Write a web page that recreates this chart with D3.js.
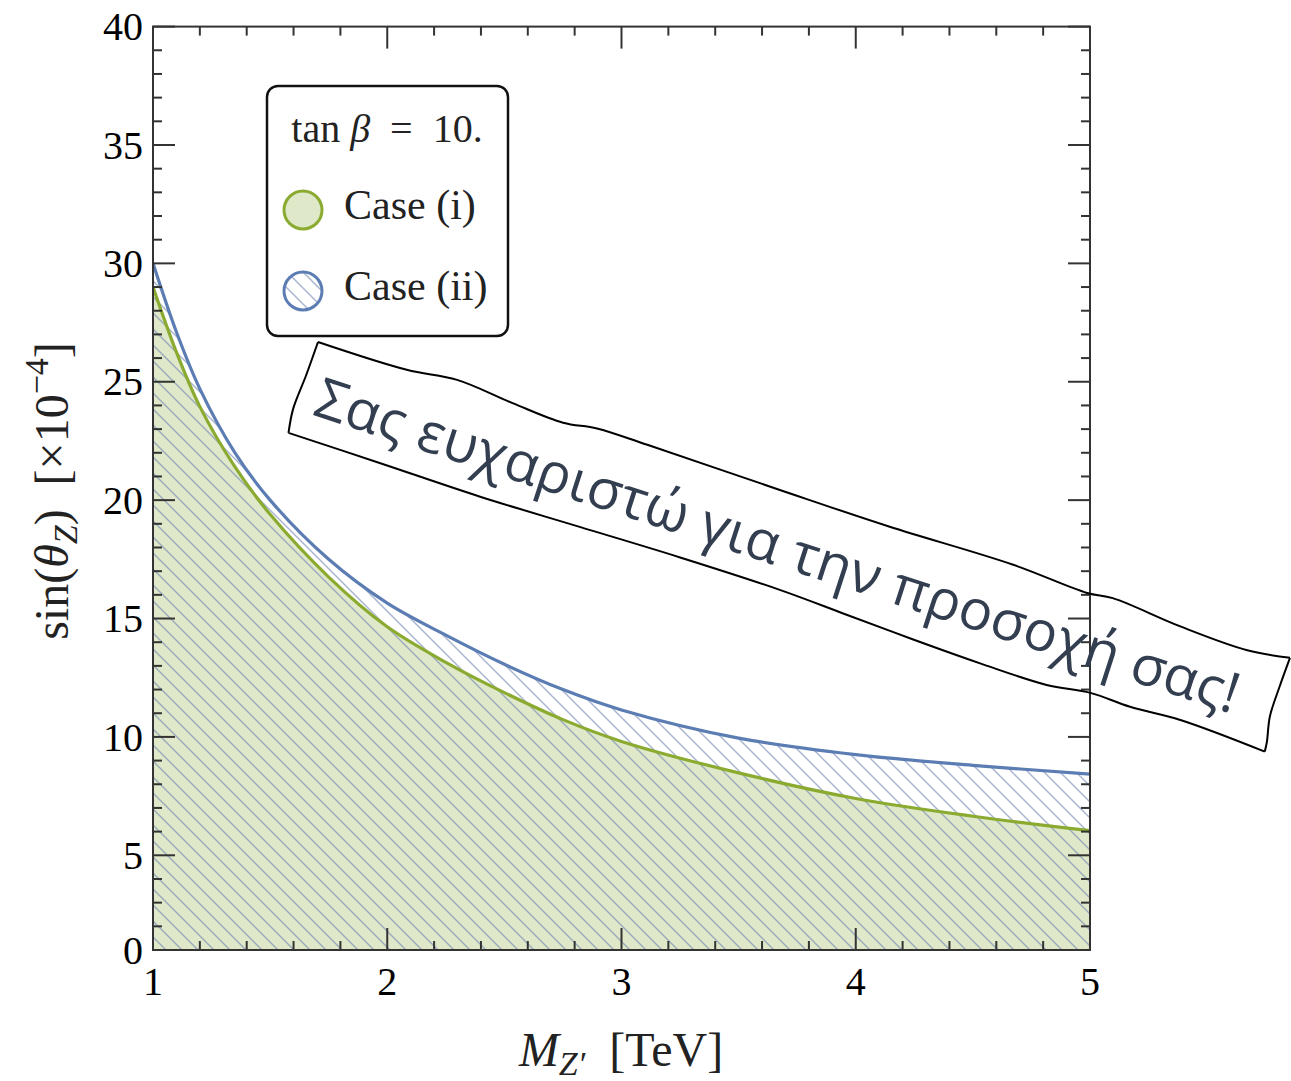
<!DOCTYPE html>
<html>
<head>
<meta charset="utf-8">
<script src="https://cdn.jsdelivr.net/npm/d3@7"></script>
<style>
  body { margin: 0; background: #fff; }
  text { font-family: "Liberation Serif", "DejaVu Serif", serif; }
</style>
</head>
<body>
<svg width="1291" height="1081"></svg>
<script>
// Z' mass in TeV and the two limits on sin(theta_Z) in units of 1e-4
var massTeV = [1, 1.1, 1.2, 1.35, 1.5, 1.75, 2, 2.25, 2.5, 2.75, 3, 3.5, 4, 4.5, 5];
var caseOne = [29.0, 26.25, 23.95, 21.4, 19.4, 16.75, 14.65, 13.15, 11.87, 10.73, 9.81, 8.48, 7.40, 6.65, 6.04];
var caseTwo = [30.0, 27.1, 24.7, 22.0, 20.0, 17.5, 15.65, 14.3, 13.07, 12.0, 11.14, 9.95, 9.25, 8.8, 8.43];

var xTickValues = [1, 2, 3, 4, 5];
var xTickLabels = ["1", "2", "3", "4", "5"];
var yTickValues = [1, 5, 10, 15, 20, 25, 30, 35, 40];
var yTickLabels = ["0", "5", "10", "15", "20", "25", "30", "35", "40"];

var legendLabels = ["Case (i)", "Case (ii)"];
var bannerText = "Σας ευχαριστώ για την προσοχή σας!";

var svg = d3.select("svg"),
    plotLeft = 153, plotRight = 1090, plotTop = 26.6, plotBottom = 950;

var x = d3.scaleLinear().domain([1, 5]).range([plotLeft, plotRight]);
var y = d3.scaleLinear().domain([1, 40]).range([plotBottom, plotTop]);

var green = "#8aab30", greenFill = "#dfe8c9", blue = "#5b7db3";

var defs = svg.append("defs");

// diagonal hatch for case (ii)
defs.append("pattern")
    .attr("id", "hatch")
    .attr("patternUnits", "userSpaceOnUse")
    .attr("width", 16)
    .attr("height", 16)
  .append("path")
    .attr("d", "M-4,12L4,20M0,0L16,16M12,-4L20,4")
    .attr("stroke", "#6f84b0")
    .attr("stroke-opacity", 0.6)
    .attr("stroke-width", 1.5);

defs.append("clipPath").attr("id", "plotClip")
  .append("rect")
    .attr("x", plotLeft).attr("y", plotTop)
    .attr("width", plotRight - plotLeft).attr("height", plotBottom - plotTop);

var rowsOne = massTeV.map(function(m, i) { return {m: m, v: caseOne[i]}; });
var rowsTwo = massTeV.map(function(m, i) { return {m: m, v: caseTwo[i]}; });

var area = d3.area()
    .x(function(d) { return x(d.m); })
    .y0(plotBottom)
    .y1(function(d) { return y(d.v); })
    .curve(d3.curveCatmullRom);

var line = d3.line()
    .x(function(d) { return x(d.m); })
    .y(function(d) { return y(d.v); })
    .curve(d3.curveCatmullRom);

var plot = svg.append("g").attr("clip-path", "url(#plotClip)");

plot.append("path").datum(rowsOne).attr("d", area).attr("fill", greenFill);
plot.append("path").datum(rowsTwo).attr("d", area).attr("fill", "url(#hatch)");
plot.append("path").datum(rowsOne).attr("d", line)
    .attr("fill", "none").attr("stroke", green).attr("stroke-width", 3.2);
plot.append("path").datum(rowsTwo).attr("d", line)
    .attr("fill", "none").attr("stroke", blue).attr("stroke-width", 3.2);

// frame and ticks on all four sides
var minorY = d3.range(1, 41),
    minorX = d3.range(0, 21).map(function(i) { return 1 + i * 0.2; });

var axes = svg.append("g").attr("stroke", "#333").attr("stroke-width", 2);

axes.append("rect")
    .attr("x", plotLeft).attr("y", plotTop)
    .attr("width", plotRight - plotLeft).attr("height", plotBottom - plotTop)
    .attr("fill", "none");

minorY.forEach(function(v) {
  var major = v % 5 === 0;
  var len = major ? 22 : 9;
  axes.append("line").attr("x1", plotLeft).attr("x2", plotLeft + len).attr("y1", y(v)).attr("y2", y(v));
  axes.append("line").attr("x1", plotRight).attr("x2", plotRight - len).attr("y1", y(v)).attr("y2", y(v));
});

minorX.forEach(function(v) {
  var major = Math.abs(v - Math.round(v)) < 1e-6;
  var len = major ? 22 : 9;
  axes.append("line").attr("x1", x(v)).attr("x2", x(v)).attr("y1", plotBottom).attr("y2", plotBottom - len);
  axes.append("line").attr("x1", x(v)).attr("x2", x(v)).attr("y1", plotTop).attr("y2", plotTop + len);
});

// tick labels
svg.append("g").selectAll("text")
  .data(yTickValues)
  .enter().append("text")
    .attr("x", 143)
    .attr("y", function(d) { return y(d); })
    .attr("dy", "0.34em")
    .attr("text-anchor", "end")
    .attr("font-size", 40)
    .text(function(d, i) { return yTickLabels[i]; });

svg.append("g").selectAll("text")
  .data(xTickValues)
  .enter().append("text")
    .attr("x", function(d) { return x(d); })
    .attr("y", 995)
    .attr("text-anchor", "middle")
    .attr("font-size", 40)
    .text(function(d, i) { return xTickLabels[i]; });

// axis titles
var xt = svg.append("text")
    .attr("x", 621).attr("y", 1066)
    .attr("text-anchor", "middle")
    .attr("font-size", 48)
    .attr("fill", "#222");
xt.append("tspan").attr("font-style", "italic").text("M");
xt.append("tspan").attr("font-style", "italic").attr("font-size", 34).attr("dy", 9).text("Z′");
xt.append("tspan").attr("dy", -9).text("\u00a0 [TeV]");

var yt = svg.append("text")
    .attr("transform", "translate(68,491) rotate(-90)")
    .attr("text-anchor", "middle")
    .attr("font-size", 48)
    .attr("fill", "#222");
yt.append("tspan").text("sin(");
yt.append("tspan").attr("font-style", "italic").text("θ");
yt.append("tspan").attr("font-style", "italic").attr("font-size", 34).attr("dy", 9).text("Z");
yt.append("tspan").attr("dy", -9).text(")\u00a0 [×10");
yt.append("tspan").attr("font-size", 34).attr("dy", -20).text("−4");
yt.append("tspan").attr("dy", 20).text("]");

// legend
var legend = svg.append("g");
legend.append("rect")
    .attr("x", 267).attr("y", 86)
    .attr("width", 241).attr("height", 250)
    .attr("rx", 11)
    .attr("fill", "#fff")
    .attr("stroke", "#111")
    .attr("stroke-width", 2.5);

var lt = legend.append("text").attr("x", 387).attr("y", 142)
    .attr("text-anchor", "middle").attr("font-size", 40).attr("fill", "#222");
lt.append("tspan").text("tan ");
lt.append("tspan").attr("font-style", "italic").text("β");
lt.append("tspan").text("\u00a0 = \u00a010.");

var items = legend.selectAll("g.item")
  .data(legendLabels)
  .enter().append("g")
    .attr("class", "item")
    .attr("transform", function(d, i) { return "translate(0," + (i * 81) + ")"; });

items.append("circle")
    .attr("cx", 303).attr("cy", 210).attr("r", 19)
    .attr("fill", function(d, i) { return i === 0 ? greenFill : "url(#hatch)"; })
    .attr("stroke", function(d, i) { return i === 0 ? green : blue; })
    .attr("stroke-width", 3);

items.append("text")
    .attr("x", 344).attr("y", 219)
    .attr("font-size", 42)
    .attr("fill", "#222")
    .text(function(d) { return d; });

// hand drawn banner
var bannerTop = [[0, 0], [93, -1], [144, -7], [204, -2], [258, 1], [292, -4], [345, -4], [485, -2],
                 [600, -1], [730, -3], [809, 1], [835, -2], [908, 4], [979, 6], [1022, 0]];
var bannerRight = [[1022, 0], [1021, 31], [1021, 62], [1026, 87], [1027, 97]];
var bannerBottom = [[1027, 97], [937, 93], [885, 96], [843, 95], [799, 101], [729, 101], [658, 99],
                    [587, 96], [515, 93], [411, 93], [306, 95], [202, 97], [96, 96], [0, 95.5]];
var bannerLeft = [[0, 95.5], [-3, 71], [-1, 35], [0, 0]];

var edge = d3.line().curve(d3.curveCatmullRom);
var banner = svg.append("g").attr("transform", "translate(318,342) rotate(18)");
banner.append("path")
    .attr("d", edge(bannerTop) + edge(bannerRight) + edge(bannerBottom) + edge(bannerLeft))
    .attr("fill", "none")
    .attr("stroke", "#000")
    .attr("stroke-width", 2);

var bt = banner.append("text")
    .attr("x", 500)
    .attr("text-anchor", "middle")
    .style("font-family", "'Open Sans', 'Noto Sans', sans-serif")
    .attr("fill", "#333f50")
    .attr("font-size", 48)
    .text(bannerText);
var fs = 48 * 968 / bt.node().getComputedTextLength();
bt.attr("font-size", fs).attr("y", 51 + 0.357 * fs);
</script>
</body>
</html>
